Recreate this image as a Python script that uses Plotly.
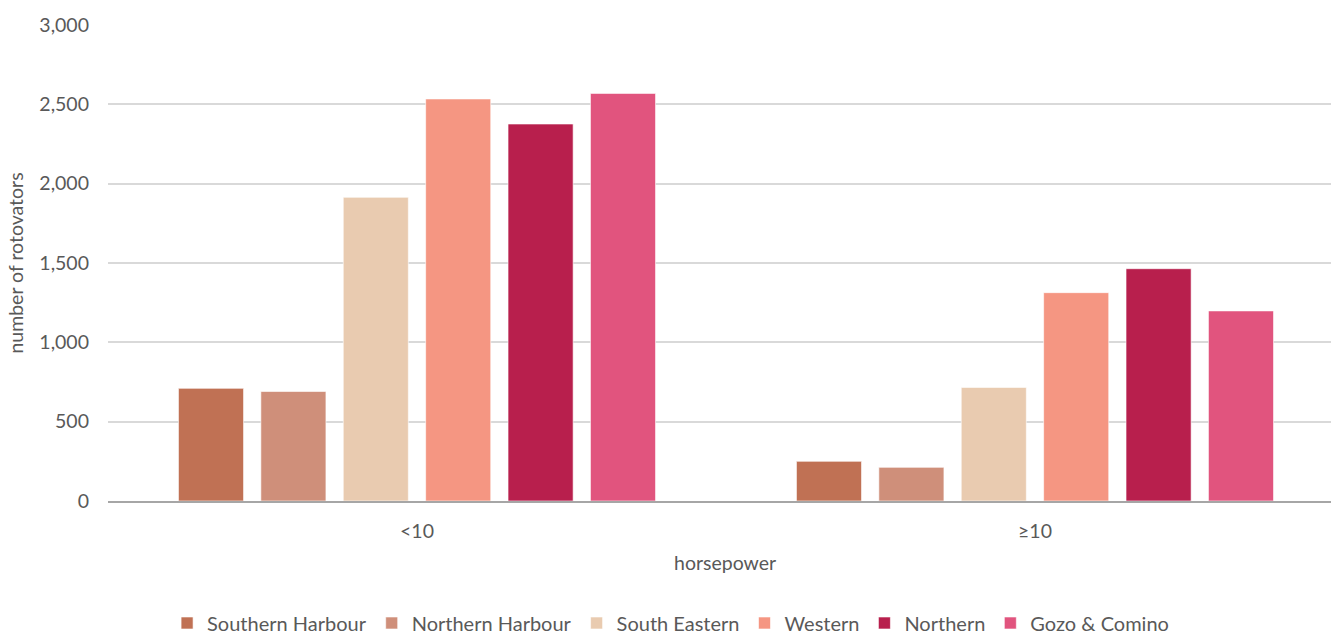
import plotly.graph_objects as go

categories = ["<10", "≥10"]
regions = ["Southern Harbour", "Northern Harbour", "South Eastern", "Western", "Northern", "Gozo & Comino"]
southern_harbour = [710, 250]
northern_harbour = [690, 212]
south_eastern = [1914, 716]
western = [2534, 1313]
northern = [2376, 1464]
gozo_comino = [2569, 1198]
colors = ["#C07154", "#CF8F7A", "#E9CBB0", "#F59682", "#B81F4D", "#E1547E"]

series = [southern_harbour, northern_harbour, south_eastern, western, northern, gozo_comino]

FONT = "Lato, Calibri, Carlito, sans-serif"
GREY = "#595959"

fig = go.Figure()
for name, vals, col in zip(regions, series, colors):
    fig.add_trace(go.Bar(
        name=name, x=categories, y=vals,
        marker=dict(color=col, line=dict(color="rgba(255,255,255,0.6)", width=1)),
    ))

fig.update_layout(
    width=1331, height=635,
    margin=dict(l=108, r=0, t=25, b=134, autoexpand=False),
    paper_bgcolor="white", plot_bgcolor="white",
    barmode="group", bargap=0.2, bargroupgap=0.21,
    font=dict(family=FONT, color=GREY, size=19.5),
    showlegend=True,
    legend=dict(
        orientation="h", x=0.46, xanchor="center", y=-0.2563, yanchor="middle",
        font=dict(family=FONT, size=20, color=GREY),
        itemwidth=30, tracegroupgap=0, itemclick=False,
    ),
    annotations=[dict(
        text="horsepower", xref="paper", yref="paper", x=0.5045, y=-0.13,
        xanchor="center", yanchor="middle", showarrow=False,
        font=dict(family=FONT, size=19.5, color=GREY),
    )],
)

fig.update_xaxes(
    type="category", range=[-0.5, 1.479], automargin=False,
    showgrid=False, showline=True, linecolor="#A6A6A6", linewidth=1.5,
    ticks="", ticklabelstandoff=12,
    tickfont=dict(family=FONT, size=19.5, color=GREY),
)
fig.update_yaxes(
    range=[0, 3000], tickvals=[0, 500, 1000, 1500, 2000, 2500, 3000],
    tickformat=",d", showgrid=True, gridcolor="#D9D9D9", gridwidth=1.5,
    zeroline=False, showline=False, ticks="", ticklabelstandoff=18,
    automargin=False,
    tickfont=dict(family=FONT, size=19.5, color=GREY),
    title=dict(text="number of rotovators", standoff=10,
               font=dict(family=FONT, size=19.5, color=GREY)),
)

fig.write_html(
    "out.html",
    config={"displayModeBar": False},
    post_script="document.body.style.margin='0';document.body.style.overflow='hidden';",
)
